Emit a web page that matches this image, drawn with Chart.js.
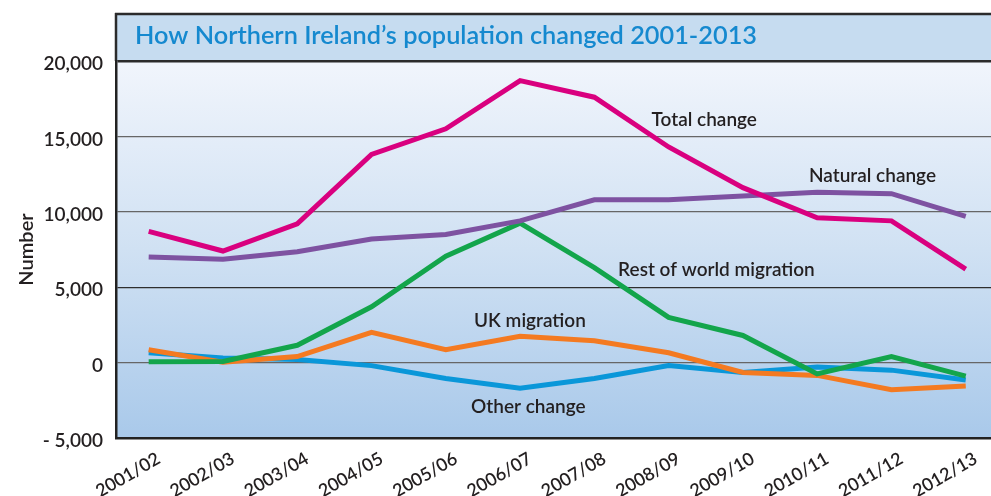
<!DOCTYPE html>
<html><head><meta charset="utf-8">
<script src="https://cdn.jsdelivr.net/npm/chart.js@4.4.1/dist/chart.umd.min.js"></script>
<style>html,body{margin:0;padding:0;background:#fff}#wrap{width:991px;height:496px;position:relative}</style>
</head><body><div id="wrap"><canvas id="c" width="991" height="496"></canvas></div>
<script>
const categories = ['2001/02','2002/03','2003/04','2004/05','2005/06','2006/07','2007/08','2008/09','2009/10','2010/11','2011/12','2012/13'];
const totalChange = [8700,7400,9200,13800,15500,18700,17600,14300,11600,9600,9400,6200];
const naturalChange = [7000,6850,7350,8200,8500,9400,10800,10800,11050,11300,11200,9700];
const restOfWorldMigration = [50,80,1150,3700,7050,9250,6300,3000,1800,-750,400,-900];
const ukMigration = [850,20,400,2000,850,1750,1450,650,-650,-850,-1800,-1550];
const otherChange = [650,300,200,-200,-1050,-1700,-1050,-200,-650,-300,-500,-1150];
const yTicks = [-5000,0,5000,10000,15000,20000];
const seriesNames = ['Total change','Natural change','Rest of world migration','UK migration','Other change'];
const titleText = 'How Northern Ireland\u2019s population changed 2001-2013';
const yAxisTitle = 'Number';

const seriesValues = [totalChange, naturalChange, restOfWorldMigration, ukMigration, otherChange];
const seriesColors = ['#d9007f','#7e52a1','#13a54b','#f47a21','#0a97d9'];
// label anchors in data space (x index, y value)
const labelAnchors = [[6.77,16100],[8.89,12350],[6.32,6150],[4.38,2800],[4.34,-2950]];

const fmt = v => { const s = Math.abs(v).toLocaleString('en-US'); return v < 0 ? '- ' + s : s; };
const FONT = 'Lato, "Open Sans", sans-serif';

const framePlugin = {
  id: 'frame',
  beforeDraw(chart) {
    const ctx = chart.ctx, a = chart.chartArea;
    ctx.save();
    const g = ctx.createLinearGradient(0, a.top, 0, a.bottom);
    g.addColorStop(0, '#f1f5fc');
    g.addColorStop(0.5, '#d0e1f3');
    g.addColorStop(1, '#a9c9ea');
    ctx.fillStyle = g;
    ctx.fillRect(a.left, a.top, a.right - a.left, a.bottom - a.top);
    // title band
    ctx.fillStyle = '#c6dcf0';
    ctx.fillRect(a.left, 13, a.right - a.left, a.top - 13);
    ctx.strokeStyle = '#2b2b2b';
    ctx.lineWidth = 2.5;
    ctx.beginPath(); ctx.moveTo(a.left - 1, 14); ctx.lineTo(a.right, 14); ctx.stroke();
    ctx.beginPath(); ctx.moveTo(a.left, 13); ctx.lineTo(a.left, a.top); ctx.stroke();
    ctx.fillStyle = '#1589cf';
    ctx.font = '600 25.3px ' + FONT;
    ctx.textBaseline = 'alphabetic';
    ctx.textAlign = 'left';
    ctx.fillText(titleText, a.left + 19, 44);
    ctx.restore();
  },
  afterDatasetsDraw(chart) {
    const ctx = chart.ctx, xs = chart.scales.x, ys = chart.scales.y;
    ctx.save();
    ctx.fillStyle = '#231f20';
    ctx.font = '600 19px ' + FONT;
    ctx.textAlign = 'left';
    ctx.textBaseline = 'middle';
    seriesNames.forEach((n, i) => {
      const [xi, yv] = labelAnchors[i];
      ctx.fillText(n, xs.getPixelForValue(xi), ys.getPixelForValue(yv));
    });
    ctx.restore();
  }
};

new Chart(document.getElementById('c'), {
  type: 'line',
  data: {
    datasets: seriesNames.map((n, i) => ({
      label: n,
      data: seriesValues[i].map((v, j) => ({x: j, y: v})),
      borderColor: seriesColors[i],
      backgroundColor: seriesColors[i],
      borderWidth: 5,
      pointRadius: 0,
      tension: 0,
      borderJoinStyle: 'miter',
      borderCapStyle: 'butt',
      fill: false
    }))
  },
  options: {
    responsive: false,
    animation: false,
    devicePixelRatio: 1,
    layout: { padding: { top: 61, right: 0, left: 0, bottom: 0 } },
    plugins: { legend: { display: false }, tooltip: { enabled: false }, title: { display: false } },
    scales: {
      x: {
        type: 'linear',
        min: -0.44,
        max: 11.34,
        afterBuildTicks: s => { s.ticks = categories.map((_, i) => ({value: i})); },
        afterFit: s => { s.height = 58; },
        grid: { display: false, drawTicks: false },
        border: { display: true, color: '#222', width: 2.5 },
        ticks: {
          autoSkip: false,
          minRotation: 30,
          maxRotation: 30,
          padding: 10,
          labelOffset: 10,
          color: '#231f20',
          font: { family: FONT, size: 18, weight: '600' },
          callback: v => categories[v]
        }
      },
      y: {
        min: -5000,
        max: 20000,
        afterBuildTicks: s => { s.ticks = yTicks.map(v => ({value: v})); },
        afterFit: s => { s.width = 116; },
        grid: {
          drawTicks: false,
          color: c => (c.tick && c.tick.value === 20000) ? '#2b2b2b' : (c.tick && c.tick.value === 5000 ? '#2e2e2e' : '#666'),
          lineWidth: c => (c.tick && c.tick.value === 20000) ? 2.5 : 1.2
        },
        border: { display: true, color: '#222', width: 2.5 },
        title: { display: true, text: yAxisTitle, color: '#231f20', font: { family: FONT, size: 20, weight: '600' }, padding: { top: 15, bottom: 0 } },
        ticks: {
          padding: 13,
          labelOffset: 3,
          color: '#231f20',
          font: { family: FONT, size: 19, weight: '600' },
          callback: v => fmt(v)
        }
      }
    }
  },
  plugins: [framePlugin]
});
</script></body></html>
